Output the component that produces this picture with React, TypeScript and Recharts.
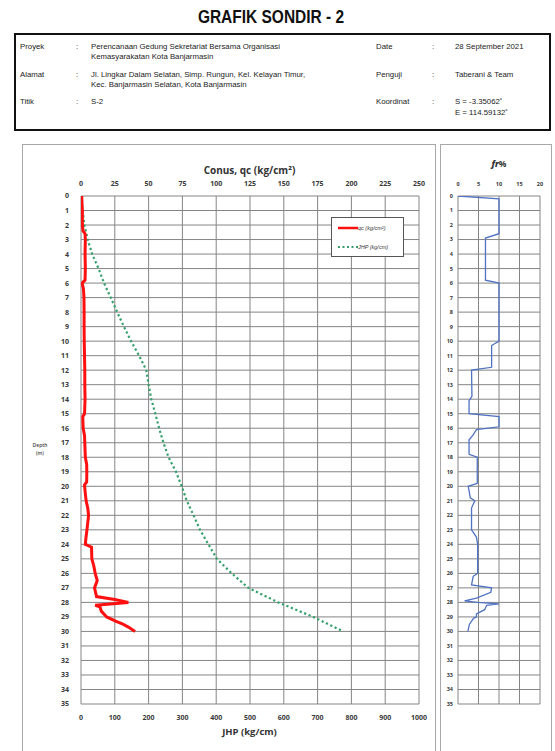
import { ComposedChart, Line, XAxis, YAxis, CartesianGrid, Legend } from 'recharts';

// cone resistance qc (kg/cm2) by depth (m)
const qcDepth = [0, 1, 2, 2.4, 2.6, 3, 4, 5, 5.8, 6, 6.4, 7, 8, 9, 10, 11, 12, 13, 14, 15, 15.2, 16, 16.5, 17, 18, 18.5, 19, 19.7, 19.9, 20.5, 21, 21.5, 22, 22.5, 23, 23.6, 24, 24.2, 25, 25.5, 26, 26.5, 27, 27.6, 27.8, 28, 28.2, 28.3, 28.6, 29, 29.3, 29.5, 29.7, 30];
const qcValue = [0.5, 1, 1, 1.5, 3, 3.2, 3, 3.2, 3, 0.8, 1.8, 2.2, 2.3, 2.3, 2.4, 2.6, 2.8, 2.8, 3, 2.6, 1.3, 1.6, 2.6, 2.8, 3.2, 4.2, 4.3, 4.2, 2.6, 3.2, 3.8, 5, 5.6, 5, 4.4, 3.6, 3.2, 7.8, 8, 9.5, 10.5, 12, 10, 11.5, 25, 35, 10.5, 14, 15, 19, 26, 31, 35, 40];

// total friction JHP (kg/cm)
const jhpDepth = [0, 1, 2, 3, 4, 5, 6, 7, 8, 9, 10, 11, 12, 13, 14, 15, 16, 17, 18, 19, 20, 21, 22, 23, 24, 25, 26, 27, 28, 29, 30];
const jhpValue = [0, 5, 10, 20, 33, 52, 68, 88, 107, 127, 148, 172, 193, 200, 208, 220, 231, 244, 259, 281, 298, 313, 333, 352, 377, 402, 446, 495, 584, 687, 776];

// friction ratio fr (%)
const frDepth = [0, 0.2, 2.6, 2.9, 5.8, 6, 10, 10.3, 11.8, 12, 13.8, 14.1, 15, 15.2, 15.9, 16.1, 16.5, 16.8, 17.8, 18, 19.8, 20, 20.8, 21, 21.5, 23, 23.5, 24, 26, 26.2, 26.8, 27, 27.3, 27.7, 27.9, 28, 28.1, 28.2, 28.5, 28.8, 29, 29.1, 29.5, 30];
const frValue = [0, 10, 10, 6.7, 6.7, 10, 10, 8.2, 8.2, 3.3, 3.4, 2.7, 2.7, 10, 10, 4.5, 3.6, 2.7, 2.7, 4.7, 4.7, 2.5, 3, 4.1, 3.3, 3.3, 4.5, 4.8, 4.8, 3.7, 3.3, 8.2, 8, 4.5, 1.6, 4.8, 10, 7, 6.5, 4.5, 4.5, 3.8, 2.8, 2.4];

const conusTicks = [0, 25, 50, 75, 100, 125, 150, 175, 200, 225, 250];
const jhpTicks = [0, 100, 200, 300, 400, 500, 600, 700, 800, 900, 1000];
const frTicks = [0, 5, 10, 15, 20];
const depthTicks = [0, 1, 2, 3, 4, 5, 6, 7, 8, 9, 10, 11, 12, 13, 14, 15, 16, 17, 18, 19, 20, 21, 22, 23, 24, 25, 26, 27, 28, 29, 30, 31, 32, 33, 34, 35];

const qcData = qcDepth.map((d, i) => ({ depth: d, qc: qcValue[i] }));
const jhpData = jhpDepth.map((d, i) => ({ depth: d, jhp: jhpValue[i] }));
const frData = frDepth.map((d, i) => ({ depth: d, fr: frValue[i] }));

const RED = '#ff1010';
const GREEN = '#34a06c';
const BLUE = '#4f72c2';
const GRID = '#858585';

const chartFont = "'Open Sans', 'DejaVu Sans', sans-serif";
const textFont = "'Liberation Sans', Arial, sans-serif";
const tickStyle = { fontSize: 7, fontWeight: 700, fill: '#3a3a3a', fontFamily: chartFont };
const smallTick = { fontSize: 5.5, fontWeight: 700, fill: '#3a3a3a', fontFamily: chartFont };

function abs(left: number, top: number, extra: React.CSSProperties = {}): React.CSSProperties {
  return { position: 'absolute', left, top, whiteSpace: 'nowrap', ...extra };
}

const info = { fontFamily: textFont, fontSize: 7.8, color: '#222', lineHeight: '9px' };

function LegendBox() {
  return (
    <div style={{ width: 73, height: 40, border: '1px solid #555', background: '#fff', boxSizing: 'border-box', fontFamily: textFont, fontSize: 5.5, fontStyle: 'italic', color: '#333' }}>
      <div style={{ display: 'flex', alignItems: 'center', height: 20, paddingLeft: 6 }}>
        <svg width={20} height={6}><line x1={0} y1={3} x2={20} y2={3} stroke={RED} strokeWidth={2.5} /></svg>
        <span>qc (kg/cm²)</span>
      </div>
      <div style={{ display: 'flex', alignItems: 'center', height: 18, paddingLeft: 6 }}>
        <svg width={20} height={6}><line x1={0} y1={3} x2={20} y2={3} stroke={GREEN} strokeWidth={2} strokeDasharray="2 2.5" /></svg>
        <span>JHP (kg/cm)</span>
      </div>
    </div>
  );
}

export default function App() {
  return (
    <div style={{ position: 'absolute', left: 0, top: 0, width: 555, height: 751, background: '#fff', overflow: 'hidden' }}>
      <div style={abs(0, 6, { width: 542, textAlign: 'center', fontFamily: textFont, fontWeight: 700, fontSize: 18, color: '#111', lineHeight: '22px', transform: 'scaleX(0.86)' })}>
        GRAFIK SONDIR - 2
      </div>

      <div style={abs(14, 33, { width: 537, height: 98, border: '2px solid #111', boxSizing: 'border-box' })} />
      <div style={abs(20, 42, info)}>Proyek</div>
      <div style={abs(76, 42, info)}>:</div>
      <div style={abs(91, 42, info)}>Perencanaan Gedung Sekretariat Bersama Organisasi</div>
      <div style={abs(91, 52, info)}>Kemasyarakatan Kota Banjarmasin</div>
      <div style={abs(20, 70, info)}>Alamat</div>
      <div style={abs(76, 70, info)}>:</div>
      <div style={abs(91, 70, info)}>Jl. Lingkar Dalam Selatan, Simp. Rungun, Kel. Kelayan Timur,</div>
      <div style={abs(91, 80, info)}>Kec. Banjarmasin Selatan, Kota Banjarmasin</div>
      <div style={abs(20, 97, info)}>Titik</div>
      <div style={abs(76, 97, info)}>:</div>
      <div style={abs(91, 97, info)}>S-2</div>
      <div style={abs(376, 42, info)}>Date</div>
      <div style={abs(432, 42, info)}>:</div>
      <div style={abs(455, 42, info)}>28 September 2021</div>
      <div style={abs(376, 70, info)}>Penguji</div>
      <div style={abs(432, 70, info)}>:</div>
      <div style={abs(455, 70, info)}>Taberani &amp; Team</div>
      <div style={abs(376, 97, info)}>Koordinat</div>
      <div style={abs(432, 97, info)}>:</div>
      <div style={abs(455, 97, info)}>S = -3.35062˚</div>
      <div style={abs(455, 108, info)}>E = 114.59132˚</div>

      <div style={abs(22, 144, { width: 414, height: 620, border: '1.5px solid #a8a8a8', boxSizing: 'border-box' })} />
      <div style={abs(440, 144, { width: 112, height: 620, border: '1.5px solid #a8a8a8', boxSizing: 'border-box' })} />

      <div style={abs(80, 163, { width: 339, textAlign: 'center', fontFamily: chartFont, fontWeight: 700, fontSize: 10, color: '#333' })}>
        Conus, qc (kg/cm²)
      </div>
      <div style={abs(80, 725, { width: 339, textAlign: 'center', fontFamily: chartFont, fontWeight: 700, fontSize: 9.5, color: '#333' })}>
        JHP (kg/cm)
      </div>
      <div style={abs(27, 441, { width: 26, textAlign: 'center', fontFamily: chartFont, fontSize: 5, fontWeight: 600, color: '#444', lineHeight: '8px', whiteSpace: 'normal' })}>
        Depth<br />(m)
      </div>
      <div style={abs(458, 158, { width: 82, textAlign: 'center', fontFamily: chartFont, fontWeight: 700, fontSize: 8.5, color: '#333' })}>
        <span style={{ fontStyle: 'italic', fontWeight: 800 }}>fr</span>%
      </div>

      <div style={abs(22, 144)}>
        <ComposedChart layout="vertical" width={414} height={607} margin={{ top: 22, right: 17, bottom: 17, left: 19 }}>
          <CartesianGrid xAxisId="qc" stroke={GRID} strokeWidth={1} horizontalValues={depthTicks} verticalValues={conusTicks} />
          <XAxis xAxisId="qc" orientation="top" type="number" domain={[0, 250]} ticks={conusTicks} interval={0} allowDataOverflow height={30} tickSize={0} tickMargin={10} axisLine={false} tick={tickStyle} />
          <XAxis xAxisId="jhp" orientation="bottom" type="number" domain={[0, 1000]} ticks={jhpTicks} interval={0} allowDataOverflow height={30} tickSize={0} tickMargin={11} axisLine={false} tick={tickStyle} />
          <YAxis type="number" dataKey="depth" domain={[0, 35]} ticks={depthTicks} interval={0} allowDataOverflow width={40} tickSize={0} tickMargin={12} axisLine={false} tick={tickStyle} />
          <Line data={jhpData} xAxisId="jhp" dataKey="jhp" name="JHP (kg/cm)" type="linear" stroke={GREEN} strokeWidth={2.2} strokeDasharray="2.2 2.6" dot={false} isAnimationActive={false} />
          <Line data={qcData} xAxisId="qc" dataKey="qc" name="qc (kg/cm²)" type="linear" stroke={RED} strokeWidth={3} dot={false} isAnimationActive={false} />
          <Legend layout="horizontal" verticalAlign="middle" align="center" content={() => <LegendBox />} wrapperStyle={{ position: 'absolute', left: 309, top: 73, width: 73, height: 40 }} />
        </ComposedChart>
      </div>

      <div style={abs(440, 144)}>
        <ComposedChart layout="vertical" width={112} height={607} margin={{ top: 22, right: 12, bottom: 47, left: 4 }}>
          <CartesianGrid xAxisId="fr" stroke={GRID} strokeWidth={1} horizontalValues={depthTicks} verticalValues={frTicks} />
          <XAxis xAxisId="fr" orientation="top" type="number" domain={[0, 20]} ticks={frTicks} interval={0} allowDataOverflow height={30} tickSize={0} tickMargin={10} axisLine={false} tick={smallTick} />
          <YAxis type="number" dataKey="depth" domain={[0, 35]} ticks={depthTicks} interval={0} allowDataOverflow width={14} tickSize={0} tickMargin={5} axisLine={false} tick={smallTick} />
          <Line data={frData} xAxisId="fr" dataKey="fr" type="linear" stroke={BLUE} strokeWidth={1.3} dot={false} isAnimationActive={false} />
        </ComposedChart>
      </div>
    </div>
  );
}
